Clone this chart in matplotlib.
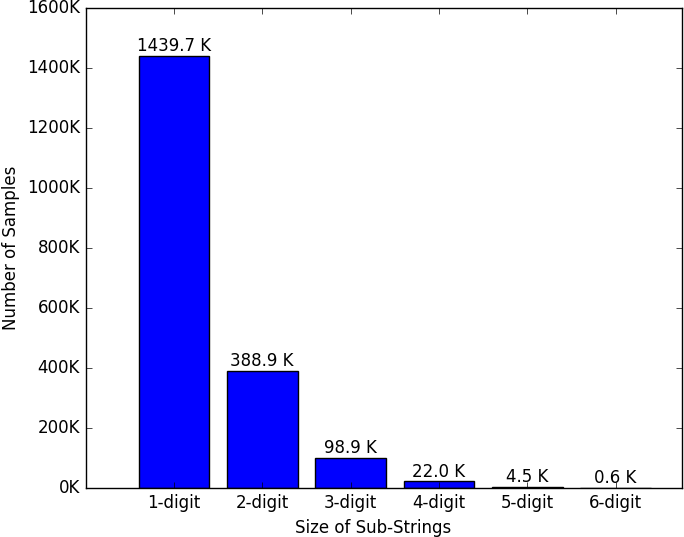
import numpy as np
import matplotlib
matplotlib.use('Agg')
import matplotlib.pyplot as plt
from matplotlib.ticker import FuncFormatter

categories = ['1-digit', '2-digit', '3-digit', '4-digit', '5-digit', '6-digit']
counts_k = [1439.7, 388.9, 98.9, 22.0, 4.5, 0.6]

plt.style.use('classic')

fig = plt.figure(figsize=(6.84, 5.37), facecolor='white')
ax = fig.add_axes([0.125, 0.0912, 0.872, 0.894])

ind = np.arange(len(categories))
values = np.asarray(counts_k) * 1000
bars = ax.bar(ind, values, width=0.8, align='center', color='#0000ff', edgecolor='black')

for rect, v in zip(bars, counts_k):
    ax.text(rect.get_x() + rect.get_width() / 2., rect.get_height() + 3000,
            '%.1f K' % v, ha='center', va='bottom', fontsize=12)

ax.set_xlim(-1, 5.75)
ax.set_ylim(0, 1600000)
ax.set_yticks(np.arange(0, 1600001, 200000))
ax.yaxis.set_major_formatter(FuncFormatter(lambda y, p: '%dK' % int(y / 1000)))
ax.set_xticks(ind)
ax.set_xticklabels(categories)
ax.set_xlabel('Size of Sub-Strings')
ax.xaxis.label.set_x(0.482)
ax.set_ylabel('Number of Samples')

fig.savefig('out.png', dpi=100, facecolor='white')
